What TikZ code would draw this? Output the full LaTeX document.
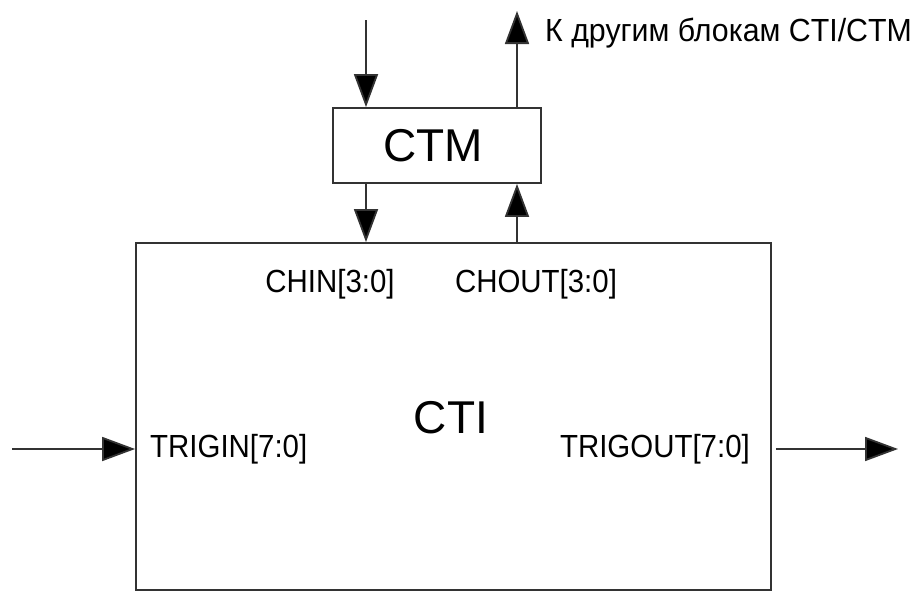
\documentclass[tikz,border=0pt]{standalone}
\usepackage{fontspec}
\setmainfont{Liberation Sans}
\usetikzlibrary{arrows.meta}
\begin{document}
\begin{tikzpicture}[x=1pt,y=-1pt,
  blockbox/.style={draw=black!80, line width=1.8pt, inner sep=0pt},
  arr/.style={draw=black!80, line width=1.8pt, -{Triangle[length=33pt,width=24pt,fill=black]}},
  lbl/.style={inner sep=0pt, font=\fontsize{32}{32}\selectfont, xscale=0.92},
  big/.style={font=\fontsize{46}{46}\selectfont}]
\useasboundingbox (0,0) rectangle (916,592);
\node[blockbox, minimum width=635pt, minimum height=347pt] (cti) at (453.5,416.5) {};
\node[big, inner sep=0pt] (ctitxt) at (451,418) {CTI};
\node[blockbox, minimum width=208pt, minimum height=75pt] (ctm) at (437,145.5) {};
\node[big, inner sep=0pt] (ctmtxt) at (433,146) {CTM};
\node[lbl] (chin) at (330,284) {CHIN[3:0]};
\node[lbl] (chout) at (536,284) {CHOUT[3:0]};
\node[lbl, anchor=west] (trigin) at (150,449) {TRIGIN[7:0]};
\node[lbl, anchor=east] (trigout) at (750,449) {TRIGOUT[7:0]};
\node[lbl, anchor=west, xscale=1.03] (other) at (545,33) {К другим блокам CTI/CTM};
\coordinate (in1) at (366,20);
\coordinate (out1) at (517,11);
\coordinate (lin) at (12,449);
\coordinate (rout) at (898,449);
\draw[arr] (in1) -- (in1 |- ctm.north);
\draw[arr] (out1 |- ctm.north) -- (out1);
\draw[arr] (in1 |- ctm.south) -- (in1 |- cti.north);
\draw[arr] (out1 |- cti.north) -- (out1 |- ctm.south);
\draw[arr] (lin) -- (lin -| cti.west);
\draw[arr] ([xshift=4pt]rout -| cti.east) -- (rout);
\end{tikzpicture}
\end{document}
